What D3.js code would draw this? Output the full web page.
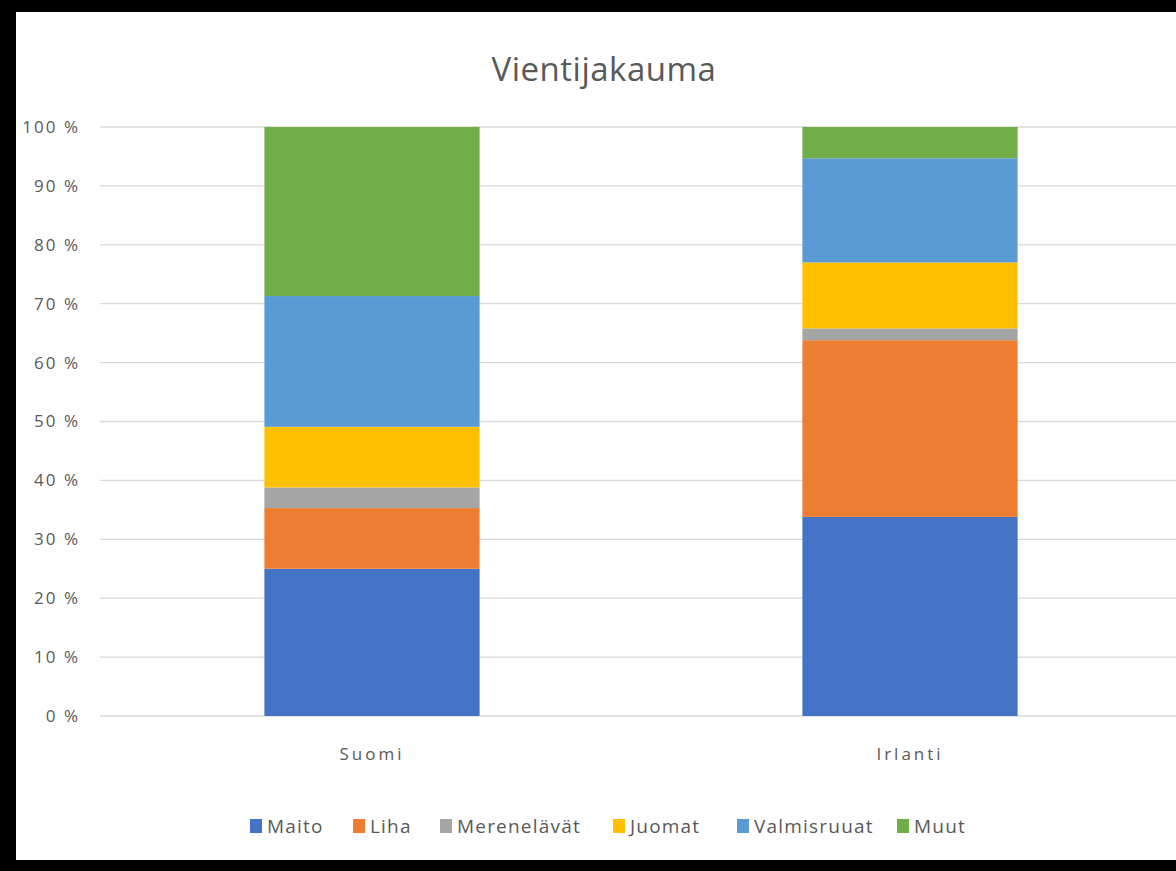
<!DOCTYPE html>
<html>
<head>
  <meta charset="utf-8">
  <title>Vientijakauma</title>
  <style>
    html, body { margin: 0; padding: 0; background: #000; overflow: hidden; }
  </style>
</head>
<body>
<script src="https://cdn.jsdelivr.net/npm/d3@7"></script>
<script>
  // data (percent of exports)
  var countries = ["Suomi", "Irlanti"];
  var keys = ["Maito", "Liha", "Merenelävät", "Juomat", "Valmisruuat", "Muut"];
  var maito       = [25.0, 33.8];
  var liha        = [10.3, 30.0];
  var merenelavat = [3.5, 2.0];
  var juomat      = [10.3, 11.2];
  var valmisruuat = [22.2, 17.7];
  var muut        = [28.7, 5.3];
  var yTicks = [0, 10, 20, 30, 40, 50, 60, 70, 80, 90, 100];

  var series = [maito, liha, merenelavat, juomat, valmisruuat, muut];
  var data = countries.map(function(c, i){
    var row = {country: c};
    keys.forEach(function(k, j){ row[k] = series[j][i]; });
    return row;
  });

  var colors = d3.scaleOrdinal()
    .domain(keys)
    .range(["#4472c4", "#ed7d31", "#a5a5a5", "#ffc000", "#5b9bd5", "#70ad47"]);

  var W = 1176, H = 871;
  var margin = {top: 127, right: -3, bottom: 155, left: 103};
  var width = W - margin.left - margin.right,
      height = H - margin.top - margin.bottom;

  var font = "'Open Sans', sans-serif";

  var svg = d3.select("body").append("svg")
    .attr("width", W)
    .attr("height", H);

  // white chart area over the black frame
  svg.append("rect")
    .attr("x", 16).attr("y", 12)
    .attr("width", W - 16).attr("height", 848)
    .attr("fill", "#fff");

  var chart = svg.append("g")
    .attr("transform", "translate(" + margin.left + "," + margin.top + ")");

  // bars ~215 px wide in 538 px slots
  var x = d3.scaleBand().domain(countries).range([0, width]).paddingInner(0.6).paddingOuter(0.3);

  var y = d3.scaleLinear().domain([0, 100]).range([height, 0]);

  // gridlines
  chart.selectAll("line.grid")
    .data(yTicks)
    .enter().append("line")
    .attr("class", "grid")
    .attr("x1", -3).attr("x2", width)
    .attr("y1", function(d){ return y(d); })
    .attr("y2", function(d){ return y(d); })
    .attr("stroke", "#d9d9d9")
    .attr("stroke-width", 1.3);

  // y axis labels
  var yAxis = chart.append("g")
    .attr("transform", "translate(-20,0)")
    .call(d3.axisLeft(y).tickValues(yTicks).tickSize(0).tickFormat(function(d){ return d + " %"; }));
  yAxis.select(".domain").remove();
  yAxis.selectAll("text")
    .attr("fill", "#595959")
    .style("font-family", font)
    .style("font-size", "17px")
    .style("letter-spacing", "2px");

  var stacked = d3.stack().keys(keys)(data);

  chart.selectAll("g.layer")
    .data(stacked)
    .enter().append("g")
    .attr("class", "layer")
    .attr("fill", function(d){ return colors(d.key); })
    .selectAll("rect")
    .data(function(d){ return d; })
    .enter().append("rect")
    .attr("x", function(d){ return x(d.data.country); })
    .attr("width", x.bandwidth())
    .attr("y", function(d){ return y(d[1]); })
    .attr("height", function(d){ return y(d[0]) - y(d[1]); });

  // x axis labels
  var xAxis = chart.append("g")
    .attr("transform", "translate(0," + (height + 29) + ")")
    .call(d3.axisBottom(x).tickSize(0));
  xAxis.select(".domain").remove();
  xAxis.selectAll("text")
    .attr("fill", "#595959")
    .style("font-family", font)
    .style("font-size", "17px")
    .style("letter-spacing", "3px");

  // title
  svg.append("text")
    .attr("x", 604).attr("y", 81)
    .attr("text-anchor", "middle")
    .attr("fill", "#595959")
    .style("font-family", font)
    .style("font-size", "33px")
    .style("letter-spacing", "0.5px")
    .text("Vientijakauma");

  // legend
  var legendX = [250, 353, 440, 613, 737, 897];
  var legend = svg.append("g")
    .selectAll("g")
    .data(keys)
    .enter().append("g")
    .attr("transform", function(d, i){ return "translate(" + legendX[i] + ",826)"; });

  legend.append("rect")
    .attr("x", 0).attr("y", -7)
    .attr("width", 12).attr("height", 14)
    .attr("fill", function(d){ return colors(d); });

  legend.append("text")
    .attr("x", 17).attr("y", 0)
    .attr("dy", "0.35em")
    .attr("fill", "#595959")
    .style("font-family", font)
    .style("font-size", "19px")
    .style("letter-spacing", "1.2px")
    .text(function(d){ return d; });
</script>
</body>
</html>
